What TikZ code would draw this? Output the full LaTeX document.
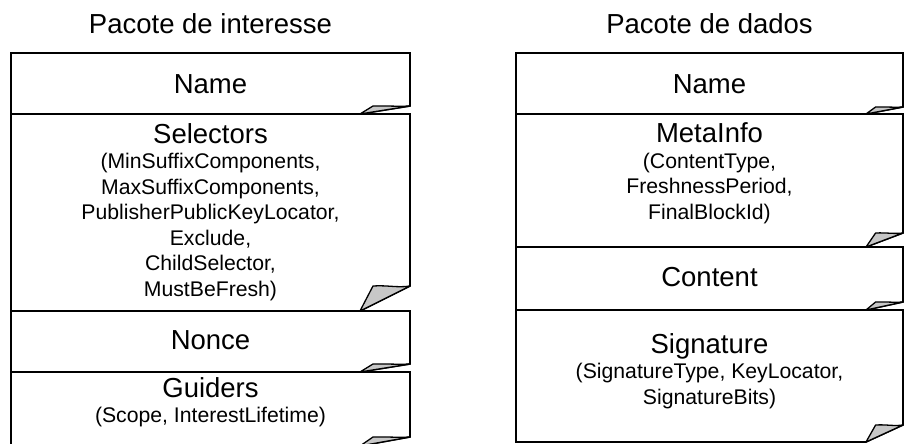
\documentclass[tikz,border=0pt]{standalone}
\usepackage{fontspec}
\setmainfont{Liberation Sans}
\tikzset{
  boxline/.style={draw=black, line width=1.6pt, fill=white, line join=miter},
  foldshape/.style={draw=black, line width=1.3pt, fill=black!22, line join=round},
  ttl/.style={font=\fontsize{27.5}{30}\selectfont, inner sep=0pt},
  lbl/.style={align=center, font=\fontsize{21.2}{25.5}\selectfont, inner sep=0pt},
}
\newcommand\notebox[6]{% x1 y1 x2 y2 foldw foldh
  \draw[boxline] (#1,#4) -- (#1,#2) -- (#3,#2) -- (#3,#4-#6) -- (#3-#5,#4) -- cycle;
  \draw[foldshape] (#3-#5,#4) -- (#3-0.74*#5,#4-#6)
     .. controls (#3-0.45*#5,#4-#6-0.04*#6) and (#3-0.25*#5,#4-#6+0.08*#6) .. (#3,#4-#6) -- cycle;
}
\newcommand\bt[1]{{\fontsize{27.5}{30}\selectfont #1}}
\begin{document}
\begin{tikzpicture}[x=1pt,y=-1pt]
\useasboundingbox[fill=white] (0,0) rectangle (905,444);
% left stack
\notebox{11}{53}{410}{114}{50}{8}
\notebox{11}{114}{410}{311}{50}{25}
\notebox{11}{311}{410}{372}{50}{8}
\notebox{11}{372}{410}{446}{50}{9}
% right stack
\notebox{516}{53}{903}{114}{37}{7}
\notebox{516}{114}{903}{247}{37}{14}
\notebox{516}{247}{903}{310}{37}{8}
\notebox{516}{310}{903}{442}{37}{17}
% titles
\node[ttl] (tl) at (210.5,24) {Pacote de interesse};
\node[ttl] (tr) at (709.5,24) {Pacote de dados};
% left texts
\node[ttl] (nameL) at (210.5,84) {Name};
\node[lbl] (selL) at (210.5,212) {\bt{Selectors}\\(MinSuffixComponents,\\MaxSuffixComponents,\\PublisherPublicKeyLocator,\\Exclude,\\ChildSelector,\\MustBeFresh)};
\node[ttl] (nonceL) at (210.5,340) {Nonce};
\node[lbl] (guidL) at (210.5,402) {\bt{Guiders}\\(Scope, InterestLifetime)};
% right texts
\node[ttl] (nameR) at (709.5,84) {Name};
\node[lbl] (metaR) at (709.5,173) {\bt{MetaInfo}\\(ContentType,\\FreshnessPeriod,\\FinalBlockId)};
\node[ttl] (contR) at (709.5,277) {Content};
\node[lbl] (sigR) at (709.5,371) {\bt{Signature}\\(SignatureType, KeyLocator,\\SignatureBits)};
\end{tikzpicture}
\end{document}
